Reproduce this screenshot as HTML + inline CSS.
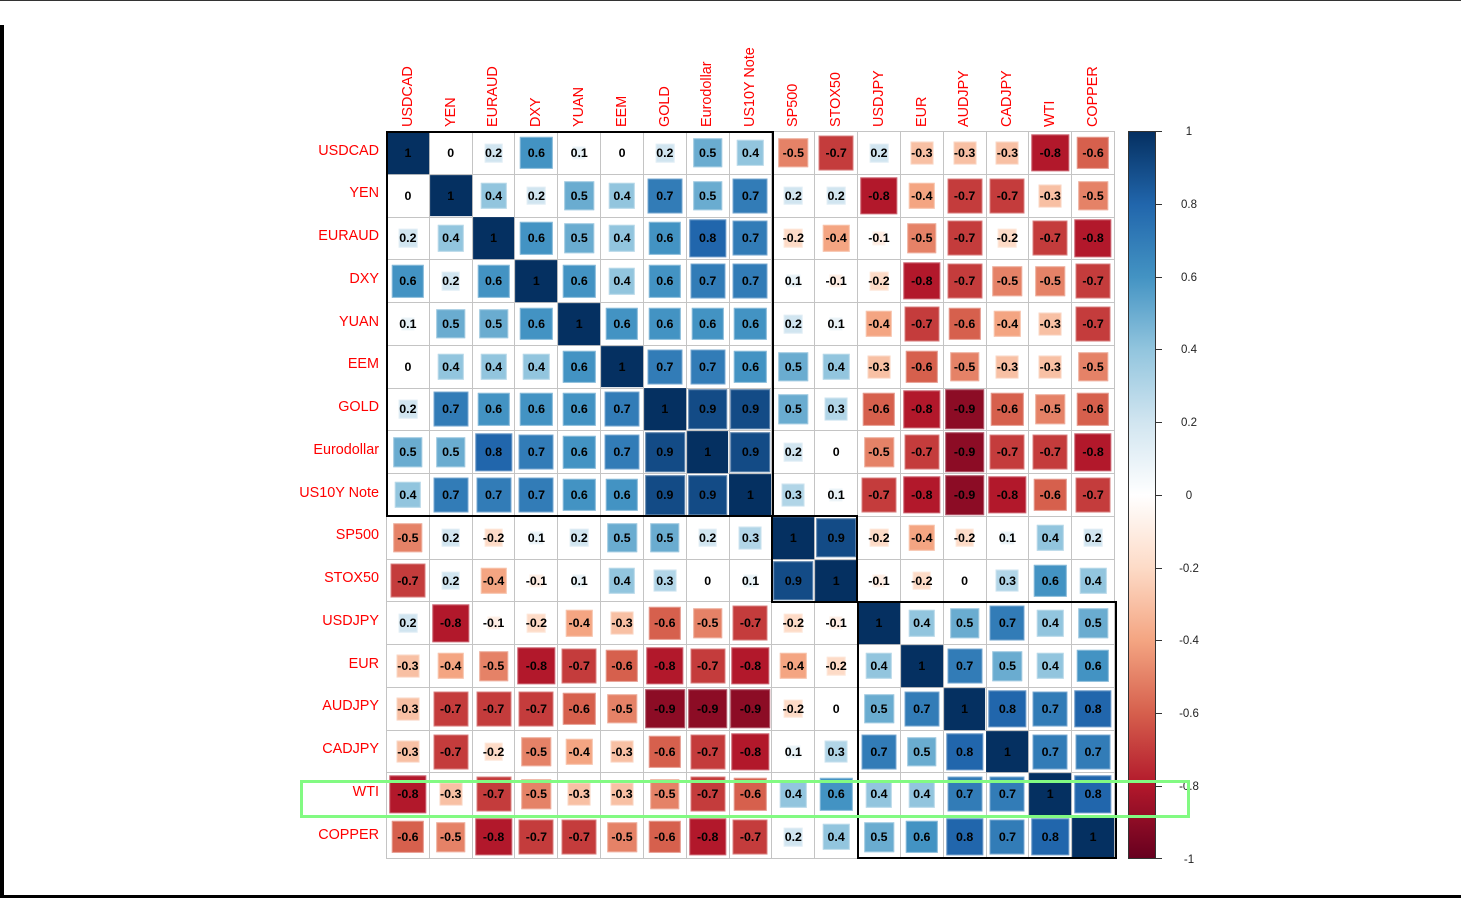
<!DOCTYPE html>
<html>
<head>
<meta charset="utf-8">
<style>
html,body{margin:0;padding:0;background:#fff;}
body{width:1461px;height:898px;position:relative;overflow:hidden;font-family:"Liberation Sans",Arial,sans-serif;}
.grid{position:absolute;left:386px;top:131px;width:729px;height:728px;box-sizing:border-box;padding:1px;gap:1px;display:grid;grid-template-columns:repeat(17,1fr);grid-template-rows:repeat(17,1fr);background:#c4c4c4;}
.c{position:relative;background:#fff;display:flex;align-items:center;justify-content:center;}
.c i{position:absolute;left:50%;top:50%;transform:translate(-50%,-50%);box-shadow:inset 0 0 0 1px rgba(255,255,255,.35);}
.c b{position:relative;z-index:1;font:bold 12.4px "Liberation Sans",Arial,sans-serif;color:#000;}
.p1{width:31.6%;height:31.6%;background:#E8F2F7}
.p2{width:44.7%;height:44.7%;background:#D1E5F0}
.p3{width:54.8%;height:54.8%;background:#B1D5E7}
.p4{width:63.2%;height:63.2%;background:#92C5DE}
.p5{width:70.7%;height:70.7%;background:#6AACD0}
.p6{width:77.5%;height:77.5%;background:#4393C3}
.p7{width:83.7%;height:83.7%;background:#327CB7}
.p8{width:89.4%;height:89.4%;background:#2166AC}
.p9{width:94.9%;height:94.9%;background:#134B86}
.c i.p10{width:100%;height:100%;background:#053061;box-shadow:none}
.n1{width:31.6%;height:31.6%;background:#FEEDE3}
.n2{width:44.7%;height:44.7%;background:#FDDBC7}
.n3{width:54.8%;height:54.8%;background:#F8C0A4}
.n4{width:63.2%;height:63.2%;background:#F4A582}
.n5{width:70.7%;height:70.7%;background:#E58267}
.n6{width:77.5%;height:77.5%;background:#D6604D}
.n7{width:83.7%;height:83.7%;background:#C43C3C}
.n8{width:89.4%;height:89.4%;background:#B2182B}
.n9{width:94.9%;height:94.9%;background:#8C0C25}
.rl{position:absolute;left:0;top:129.5px;width:379px;}
.rl div{height:42.76px;line-height:42.76px;text-align:right;color:#ff0000;font-size:14.4px;white-space:nowrap;}
.cl{position:absolute;top:127px;height:16px;line-height:16px;transform-origin:0 0;transform:rotate(-90deg);white-space:nowrap;color:#ff0000;font-size:14.4px;}
.box{position:absolute;border:2px solid #000;box-sizing:border-box;}
.cb{position:absolute;left:1128px;top:131px;width:28px;height:728px;box-sizing:border-box;border:1px solid #333;background:linear-gradient(to bottom,#053061 0%,#2166AC 10%,#4393C3 20%,#92C5DE 30%,#D1E5F0 40%,#FFFFFF 50%,#FDDBC7 60%,#F4A582 70%,#D6604D 80%,#B2182B 90%,#67001F 100%);}
.tk{position:absolute;left:1156px;width:6px;height:1px;background:#333;}
.tl{position:absolute;left:1169px;width:40px;text-align:center;height:14px;line-height:14px;font-size:11.5px;color:#222;}
</style>
</head>
<body>
<div style="position:absolute;left:0;top:0;width:1461px;height:1px;background:#333;"></div>
<div style="position:absolute;left:0;top:25px;width:4px;height:873px;background:#000;"></div>
<div style="position:absolute;left:0;top:895px;width:1461px;height:3px;background:#000;"></div>

<!-- column labels -->
<div class="cl" style="left:399.7px">USDCAD</div>
<div class="cl" style="left:442.5px">YEN</div>
<div class="cl" style="left:485.4px">EURAUD</div>
<div class="cl" style="left:528.2px">DXY</div>
<div class="cl" style="left:571.0px">YUAN</div>
<div class="cl" style="left:613.8px">EEM</div>
<div class="cl" style="left:656.6px">GOLD</div>
<div class="cl" style="left:699.4px">Eurodollar</div>
<div class="cl" style="left:742.3px">US10Y Note</div>
<div class="cl" style="left:785.1px">SP500</div>
<div class="cl" style="left:827.9px">STOX50</div>
<div class="cl" style="left:870.7px">USDJPY</div>
<div class="cl" style="left:913.5px">EUR</div>
<div class="cl" style="left:956.4px">AUDJPY</div>
<div class="cl" style="left:999.2px">CADJPY</div>
<div class="cl" style="left:1042.0px">WTI</div>
<div class="cl" style="left:1084.8px">COPPER</div>

<!-- row labels -->
<div class="rl">
<div>USDCAD</div><div>YEN</div><div>EURAUD</div><div>DXY</div><div>YUAN</div><div>EEM</div><div>GOLD</div><div>Eurodollar</div><div>US10Y Note</div><div>SP500</div><div>STOX50</div><div>USDJPY</div><div>EUR</div><div>AUDJPY</div><div>CADJPY</div><div>WTI</div><div>COPPER</div>
</div>

<div class="grid">
<!-- Row 1 USDCAD -->
<div class="c"><i class="p10"></i><b>1</b></div>
<div class="c"><b>0</b></div>
<div class="c"><i class="p2"></i><b>0.2</b></div>
<div class="c"><i class="p6"></i><b>0.6</b></div>
<div class="c"><i class="p1"></i><b>0.1</b></div>
<div class="c"><b>0</b></div>
<div class="c"><i class="p2"></i><b>0.2</b></div>
<div class="c"><i class="p5"></i><b>0.5</b></div>
<div class="c"><i class="p4"></i><b>0.4</b></div>
<div class="c"><i class="n5"></i><b>-0.5</b></div>
<div class="c"><i class="n7"></i><b>-0.7</b></div>
<div class="c"><i class="p2"></i><b>0.2</b></div>
<div class="c"><i class="n3"></i><b>-0.3</b></div>
<div class="c"><i class="n3"></i><b>-0.3</b></div>
<div class="c"><i class="n3"></i><b>-0.3</b></div>
<div class="c"><i class="n8"></i><b>-0.8</b></div>
<div class="c"><i class="n6"></i><b>-0.6</b></div>
<!-- Row 2 YEN -->
<div class="c"><b>0</b></div>
<div class="c"><i class="p10"></i><b>1</b></div>
<div class="c"><i class="p4"></i><b>0.4</b></div>
<div class="c"><i class="p2"></i><b>0.2</b></div>
<div class="c"><i class="p5"></i><b>0.5</b></div>
<div class="c"><i class="p4"></i><b>0.4</b></div>
<div class="c"><i class="p7"></i><b>0.7</b></div>
<div class="c"><i class="p5"></i><b>0.5</b></div>
<div class="c"><i class="p7"></i><b>0.7</b></div>
<div class="c"><i class="p2"></i><b>0.2</b></div>
<div class="c"><i class="p2"></i><b>0.2</b></div>
<div class="c"><i class="n8"></i><b>-0.8</b></div>
<div class="c"><i class="n4"></i><b>-0.4</b></div>
<div class="c"><i class="n7"></i><b>-0.7</b></div>
<div class="c"><i class="n7"></i><b>-0.7</b></div>
<div class="c"><i class="n3"></i><b>-0.3</b></div>
<div class="c"><i class="n5"></i><b>-0.5</b></div>
<!-- Row 3 EURAUD -->
<div class="c"><i class="p2"></i><b>0.2</b></div>
<div class="c"><i class="p4"></i><b>0.4</b></div>
<div class="c"><i class="p10"></i><b>1</b></div>
<div class="c"><i class="p6"></i><b>0.6</b></div>
<div class="c"><i class="p5"></i><b>0.5</b></div>
<div class="c"><i class="p4"></i><b>0.4</b></div>
<div class="c"><i class="p6"></i><b>0.6</b></div>
<div class="c"><i class="p8"></i><b>0.8</b></div>
<div class="c"><i class="p7"></i><b>0.7</b></div>
<div class="c"><i class="n2"></i><b>-0.2</b></div>
<div class="c"><i class="n4"></i><b>-0.4</b></div>
<div class="c"><i class="n1"></i><b>-0.1</b></div>
<div class="c"><i class="n5"></i><b>-0.5</b></div>
<div class="c"><i class="n7"></i><b>-0.7</b></div>
<div class="c"><i class="n2"></i><b>-0.2</b></div>
<div class="c"><i class="n7"></i><b>-0.7</b></div>
<div class="c"><i class="n8"></i><b>-0.8</b></div>
<!-- Row 4 DXY -->
<div class="c"><i class="p6"></i><b>0.6</b></div>
<div class="c"><i class="p2"></i><b>0.2</b></div>
<div class="c"><i class="p6"></i><b>0.6</b></div>
<div class="c"><i class="p10"></i><b>1</b></div>
<div class="c"><i class="p6"></i><b>0.6</b></div>
<div class="c"><i class="p4"></i><b>0.4</b></div>
<div class="c"><i class="p6"></i><b>0.6</b></div>
<div class="c"><i class="p7"></i><b>0.7</b></div>
<div class="c"><i class="p7"></i><b>0.7</b></div>
<div class="c"><i class="p1"></i><b>0.1</b></div>
<div class="c"><i class="n1"></i><b>-0.1</b></div>
<div class="c"><i class="n2"></i><b>-0.2</b></div>
<div class="c"><i class="n8"></i><b>-0.8</b></div>
<div class="c"><i class="n7"></i><b>-0.7</b></div>
<div class="c"><i class="n5"></i><b>-0.5</b></div>
<div class="c"><i class="n5"></i><b>-0.5</b></div>
<div class="c"><i class="n7"></i><b>-0.7</b></div>
<!-- Row 5 YUAN -->
<div class="c"><i class="p1"></i><b>0.1</b></div>
<div class="c"><i class="p5"></i><b>0.5</b></div>
<div class="c"><i class="p5"></i><b>0.5</b></div>
<div class="c"><i class="p6"></i><b>0.6</b></div>
<div class="c"><i class="p10"></i><b>1</b></div>
<div class="c"><i class="p6"></i><b>0.6</b></div>
<div class="c"><i class="p6"></i><b>0.6</b></div>
<div class="c"><i class="p6"></i><b>0.6</b></div>
<div class="c"><i class="p6"></i><b>0.6</b></div>
<div class="c"><i class="p2"></i><b>0.2</b></div>
<div class="c"><i class="p1"></i><b>0.1</b></div>
<div class="c"><i class="n4"></i><b>-0.4</b></div>
<div class="c"><i class="n7"></i><b>-0.7</b></div>
<div class="c"><i class="n6"></i><b>-0.6</b></div>
<div class="c"><i class="n4"></i><b>-0.4</b></div>
<div class="c"><i class="n3"></i><b>-0.3</b></div>
<div class="c"><i class="n7"></i><b>-0.7</b></div>
<!-- Row 6 EEM -->
<div class="c"><b>0</b></div>
<div class="c"><i class="p4"></i><b>0.4</b></div>
<div class="c"><i class="p4"></i><b>0.4</b></div>
<div class="c"><i class="p4"></i><b>0.4</b></div>
<div class="c"><i class="p6"></i><b>0.6</b></div>
<div class="c"><i class="p10"></i><b>1</b></div>
<div class="c"><i class="p7"></i><b>0.7</b></div>
<div class="c"><i class="p7"></i><b>0.7</b></div>
<div class="c"><i class="p6"></i><b>0.6</b></div>
<div class="c"><i class="p5"></i><b>0.5</b></div>
<div class="c"><i class="p4"></i><b>0.4</b></div>
<div class="c"><i class="n3"></i><b>-0.3</b></div>
<div class="c"><i class="n6"></i><b>-0.6</b></div>
<div class="c"><i class="n5"></i><b>-0.5</b></div>
<div class="c"><i class="n3"></i><b>-0.3</b></div>
<div class="c"><i class="n3"></i><b>-0.3</b></div>
<div class="c"><i class="n5"></i><b>-0.5</b></div>
<!-- Row 7 GOLD -->
<div class="c"><i class="p2"></i><b>0.2</b></div>
<div class="c"><i class="p7"></i><b>0.7</b></div>
<div class="c"><i class="p6"></i><b>0.6</b></div>
<div class="c"><i class="p6"></i><b>0.6</b></div>
<div class="c"><i class="p6"></i><b>0.6</b></div>
<div class="c"><i class="p7"></i><b>0.7</b></div>
<div class="c"><i class="p10"></i><b>1</b></div>
<div class="c"><i class="p9"></i><b>0.9</b></div>
<div class="c"><i class="p9"></i><b>0.9</b></div>
<div class="c"><i class="p5"></i><b>0.5</b></div>
<div class="c"><i class="p3"></i><b>0.3</b></div>
<div class="c"><i class="n6"></i><b>-0.6</b></div>
<div class="c"><i class="n8"></i><b>-0.8</b></div>
<div class="c"><i class="n9"></i><b>-0.9</b></div>
<div class="c"><i class="n6"></i><b>-0.6</b></div>
<div class="c"><i class="n5"></i><b>-0.5</b></div>
<div class="c"><i class="n6"></i><b>-0.6</b></div>
<!-- Row 8 Eurodollar -->
<div class="c"><i class="p5"></i><b>0.5</b></div>
<div class="c"><i class="p5"></i><b>0.5</b></div>
<div class="c"><i class="p8"></i><b>0.8</b></div>
<div class="c"><i class="p7"></i><b>0.7</b></div>
<div class="c"><i class="p6"></i><b>0.6</b></div>
<div class="c"><i class="p7"></i><b>0.7</b></div>
<div class="c"><i class="p9"></i><b>0.9</b></div>
<div class="c"><i class="p10"></i><b>1</b></div>
<div class="c"><i class="p9"></i><b>0.9</b></div>
<div class="c"><i class="p2"></i><b>0.2</b></div>
<div class="c"><b>0</b></div>
<div class="c"><i class="n5"></i><b>-0.5</b></div>
<div class="c"><i class="n7"></i><b>-0.7</b></div>
<div class="c"><i class="n9"></i><b>-0.9</b></div>
<div class="c"><i class="n7"></i><b>-0.7</b></div>
<div class="c"><i class="n7"></i><b>-0.7</b></div>
<div class="c"><i class="n8"></i><b>-0.8</b></div>
<!-- Row 9 US10Y Note -->
<div class="c"><i class="p4"></i><b>0.4</b></div>
<div class="c"><i class="p7"></i><b>0.7</b></div>
<div class="c"><i class="p7"></i><b>0.7</b></div>
<div class="c"><i class="p7"></i><b>0.7</b></div>
<div class="c"><i class="p6"></i><b>0.6</b></div>
<div class="c"><i class="p6"></i><b>0.6</b></div>
<div class="c"><i class="p9"></i><b>0.9</b></div>
<div class="c"><i class="p9"></i><b>0.9</b></div>
<div class="c"><i class="p10"></i><b>1</b></div>
<div class="c"><i class="p3"></i><b>0.3</b></div>
<div class="c"><i class="p1"></i><b>0.1</b></div>
<div class="c"><i class="n7"></i><b>-0.7</b></div>
<div class="c"><i class="n8"></i><b>-0.8</b></div>
<div class="c"><i class="n9"></i><b>-0.9</b></div>
<div class="c"><i class="n8"></i><b>-0.8</b></div>
<div class="c"><i class="n6"></i><b>-0.6</b></div>
<div class="c"><i class="n7"></i><b>-0.7</b></div>
<!-- Row 10 SP500 -->
<div class="c"><i class="n5"></i><b>-0.5</b></div>
<div class="c"><i class="p2"></i><b>0.2</b></div>
<div class="c"><i class="n2"></i><b>-0.2</b></div>
<div class="c"><i class="p1"></i><b>0.1</b></div>
<div class="c"><i class="p2"></i><b>0.2</b></div>
<div class="c"><i class="p5"></i><b>0.5</b></div>
<div class="c"><i class="p5"></i><b>0.5</b></div>
<div class="c"><i class="p2"></i><b>0.2</b></div>
<div class="c"><i class="p3"></i><b>0.3</b></div>
<div class="c"><i class="p10"></i><b>1</b></div>
<div class="c"><i class="p9"></i><b>0.9</b></div>
<div class="c"><i class="n2"></i><b>-0.2</b></div>
<div class="c"><i class="n4"></i><b>-0.4</b></div>
<div class="c"><i class="n2"></i><b>-0.2</b></div>
<div class="c"><i class="p1"></i><b>0.1</b></div>
<div class="c"><i class="p4"></i><b>0.4</b></div>
<div class="c"><i class="p2"></i><b>0.2</b></div>
<!-- Row 11 STOX50 -->
<div class="c"><i class="n7"></i><b>-0.7</b></div>
<div class="c"><i class="p2"></i><b>0.2</b></div>
<div class="c"><i class="n4"></i><b>-0.4</b></div>
<div class="c"><i class="n1"></i><b>-0.1</b></div>
<div class="c"><i class="p1"></i><b>0.1</b></div>
<div class="c"><i class="p4"></i><b>0.4</b></div>
<div class="c"><i class="p3"></i><b>0.3</b></div>
<div class="c"><b>0</b></div>
<div class="c"><i class="p1"></i><b>0.1</b></div>
<div class="c"><i class="p9"></i><b>0.9</b></div>
<div class="c"><i class="p10"></i><b>1</b></div>
<div class="c"><i class="n1"></i><b>-0.1</b></div>
<div class="c"><i class="n2"></i><b>-0.2</b></div>
<div class="c"><b>0</b></div>
<div class="c"><i class="p3"></i><b>0.3</b></div>
<div class="c"><i class="p6"></i><b>0.6</b></div>
<div class="c"><i class="p4"></i><b>0.4</b></div>
<!-- Row 12 USDJPY -->
<div class="c"><i class="p2"></i><b>0.2</b></div>
<div class="c"><i class="n8"></i><b>-0.8</b></div>
<div class="c"><i class="n1"></i><b>-0.1</b></div>
<div class="c"><i class="n2"></i><b>-0.2</b></div>
<div class="c"><i class="n4"></i><b>-0.4</b></div>
<div class="c"><i class="n3"></i><b>-0.3</b></div>
<div class="c"><i class="n6"></i><b>-0.6</b></div>
<div class="c"><i class="n5"></i><b>-0.5</b></div>
<div class="c"><i class="n7"></i><b>-0.7</b></div>
<div class="c"><i class="n2"></i><b>-0.2</b></div>
<div class="c"><i class="n1"></i><b>-0.1</b></div>
<div class="c"><i class="p10"></i><b>1</b></div>
<div class="c"><i class="p4"></i><b>0.4</b></div>
<div class="c"><i class="p5"></i><b>0.5</b></div>
<div class="c"><i class="p7"></i><b>0.7</b></div>
<div class="c"><i class="p4"></i><b>0.4</b></div>
<div class="c"><i class="p5"></i><b>0.5</b></div>
<!-- Row 13 EUR -->
<div class="c"><i class="n3"></i><b>-0.3</b></div>
<div class="c"><i class="n4"></i><b>-0.4</b></div>
<div class="c"><i class="n5"></i><b>-0.5</b></div>
<div class="c"><i class="n8"></i><b>-0.8</b></div>
<div class="c"><i class="n7"></i><b>-0.7</b></div>
<div class="c"><i class="n6"></i><b>-0.6</b></div>
<div class="c"><i class="n8"></i><b>-0.8</b></div>
<div class="c"><i class="n7"></i><b>-0.7</b></div>
<div class="c"><i class="n8"></i><b>-0.8</b></div>
<div class="c"><i class="n4"></i><b>-0.4</b></div>
<div class="c"><i class="n2"></i><b>-0.2</b></div>
<div class="c"><i class="p4"></i><b>0.4</b></div>
<div class="c"><i class="p10"></i><b>1</b></div>
<div class="c"><i class="p7"></i><b>0.7</b></div>
<div class="c"><i class="p5"></i><b>0.5</b></div>
<div class="c"><i class="p4"></i><b>0.4</b></div>
<div class="c"><i class="p6"></i><b>0.6</b></div>
<!-- Row 14 AUDJPY -->
<div class="c"><i class="n3"></i><b>-0.3</b></div>
<div class="c"><i class="n7"></i><b>-0.7</b></div>
<div class="c"><i class="n7"></i><b>-0.7</b></div>
<div class="c"><i class="n7"></i><b>-0.7</b></div>
<div class="c"><i class="n6"></i><b>-0.6</b></div>
<div class="c"><i class="n5"></i><b>-0.5</b></div>
<div class="c"><i class="n9"></i><b>-0.9</b></div>
<div class="c"><i class="n9"></i><b>-0.9</b></div>
<div class="c"><i class="n9"></i><b>-0.9</b></div>
<div class="c"><i class="n2"></i><b>-0.2</b></div>
<div class="c"><b>0</b></div>
<div class="c"><i class="p5"></i><b>0.5</b></div>
<div class="c"><i class="p7"></i><b>0.7</b></div>
<div class="c"><i class="p10"></i><b>1</b></div>
<div class="c"><i class="p8"></i><b>0.8</b></div>
<div class="c"><i class="p7"></i><b>0.7</b></div>
<div class="c"><i class="p8"></i><b>0.8</b></div>
<!-- Row 15 CADJPY -->
<div class="c"><i class="n3"></i><b>-0.3</b></div>
<div class="c"><i class="n7"></i><b>-0.7</b></div>
<div class="c"><i class="n2"></i><b>-0.2</b></div>
<div class="c"><i class="n5"></i><b>-0.5</b></div>
<div class="c"><i class="n4"></i><b>-0.4</b></div>
<div class="c"><i class="n3"></i><b>-0.3</b></div>
<div class="c"><i class="n6"></i><b>-0.6</b></div>
<div class="c"><i class="n7"></i><b>-0.7</b></div>
<div class="c"><i class="n8"></i><b>-0.8</b></div>
<div class="c"><i class="p1"></i><b>0.1</b></div>
<div class="c"><i class="p3"></i><b>0.3</b></div>
<div class="c"><i class="p7"></i><b>0.7</b></div>
<div class="c"><i class="p5"></i><b>0.5</b></div>
<div class="c"><i class="p8"></i><b>0.8</b></div>
<div class="c"><i class="p10"></i><b>1</b></div>
<div class="c"><i class="p7"></i><b>0.7</b></div>
<div class="c"><i class="p7"></i><b>0.7</b></div>
<!-- Row 16 WTI -->
<div class="c"><i class="n8"></i><b>-0.8</b></div>
<div class="c"><i class="n3"></i><b>-0.3</b></div>
<div class="c"><i class="n7"></i><b>-0.7</b></div>
<div class="c"><i class="n5"></i><b>-0.5</b></div>
<div class="c"><i class="n3"></i><b>-0.3</b></div>
<div class="c"><i class="n3"></i><b>-0.3</b></div>
<div class="c"><i class="n5"></i><b>-0.5</b></div>
<div class="c"><i class="n7"></i><b>-0.7</b></div>
<div class="c"><i class="n6"></i><b>-0.6</b></div>
<div class="c"><i class="p4"></i><b>0.4</b></div>
<div class="c"><i class="p6"></i><b>0.6</b></div>
<div class="c"><i class="p4"></i><b>0.4</b></div>
<div class="c"><i class="p4"></i><b>0.4</b></div>
<div class="c"><i class="p7"></i><b>0.7</b></div>
<div class="c"><i class="p7"></i><b>0.7</b></div>
<div class="c"><i class="p10"></i><b>1</b></div>
<div class="c"><i class="p8"></i><b>0.8</b></div>
<!-- Row 17 COPPER -->
<div class="c"><i class="n6"></i><b>-0.6</b></div>
<div class="c"><i class="n5"></i><b>-0.5</b></div>
<div class="c"><i class="n8"></i><b>-0.8</b></div>
<div class="c"><i class="n7"></i><b>-0.7</b></div>
<div class="c"><i class="n7"></i><b>-0.7</b></div>
<div class="c"><i class="n5"></i><b>-0.5</b></div>
<div class="c"><i class="n6"></i><b>-0.6</b></div>
<div class="c"><i class="n8"></i><b>-0.8</b></div>
<div class="c"><i class="n7"></i><b>-0.7</b></div>
<div class="c"><i class="p2"></i><b>0.2</b></div>
<div class="c"><i class="p4"></i><b>0.4</b></div>
<div class="c"><i class="p5"></i><b>0.5</b></div>
<div class="c"><i class="p6"></i><b>0.6</b></div>
<div class="c"><i class="p8"></i><b>0.8</b></div>
<div class="c"><i class="p7"></i><b>0.7</b></div>
<div class="c"><i class="p8"></i><b>0.8</b></div>
<div class="c"><i class="p10"></i><b>1</b></div>
</div>

<!-- cluster rectangles -->
<div class="box" style="left:385.5px;top:130.5px;width:388.4px;height:386.8px;"></div>
<div class="box" style="left:770.9px;top:515.3px;width:87.6px;height:87.7px;"></div>
<div class="box" style="left:856.5px;top:601px;width:260px;height:258.4px;"></div>

<!-- colorbar -->
<div class="cb"></div>
<div class="tk" style="top:131px"></div>
<div class="tk" style="top:204px"></div>
<div class="tk" style="top:277px"></div>
<div class="tk" style="top:349px"></div>
<div class="tk" style="top:422px"></div>
<div class="tk" style="top:495px"></div>
<div class="tk" style="top:568px"></div>
<div class="tk" style="top:640px"></div>
<div class="tk" style="top:713px"></div>
<div class="tk" style="top:786px"></div>
<div class="tk" style="top:858px"></div>
<div class="tl" style="top:125px">1</div>
<div class="tl" style="top:197.8px">0.8</div>
<div class="tl" style="top:270.5px">0.6</div>
<div class="tl" style="top:343.3px">0.4</div>
<div class="tl" style="top:416px">0.2</div>
<div class="tl" style="top:488.8px">0</div>
<div class="tl" style="top:561.5px">-0.2</div>
<div class="tl" style="top:634.3px">-0.4</div>
<div class="tl" style="top:707px">-0.6</div>
<div class="tl" style="top:779.8px">-0.8</div>
<div class="tl" style="top:852.5px">-1</div>

<!-- green highlight -->
<div style="position:absolute;left:300px;top:780px;width:890px;height:38px;box-sizing:border-box;border:3px solid #82FA82;"></div>
</body>
</html>
